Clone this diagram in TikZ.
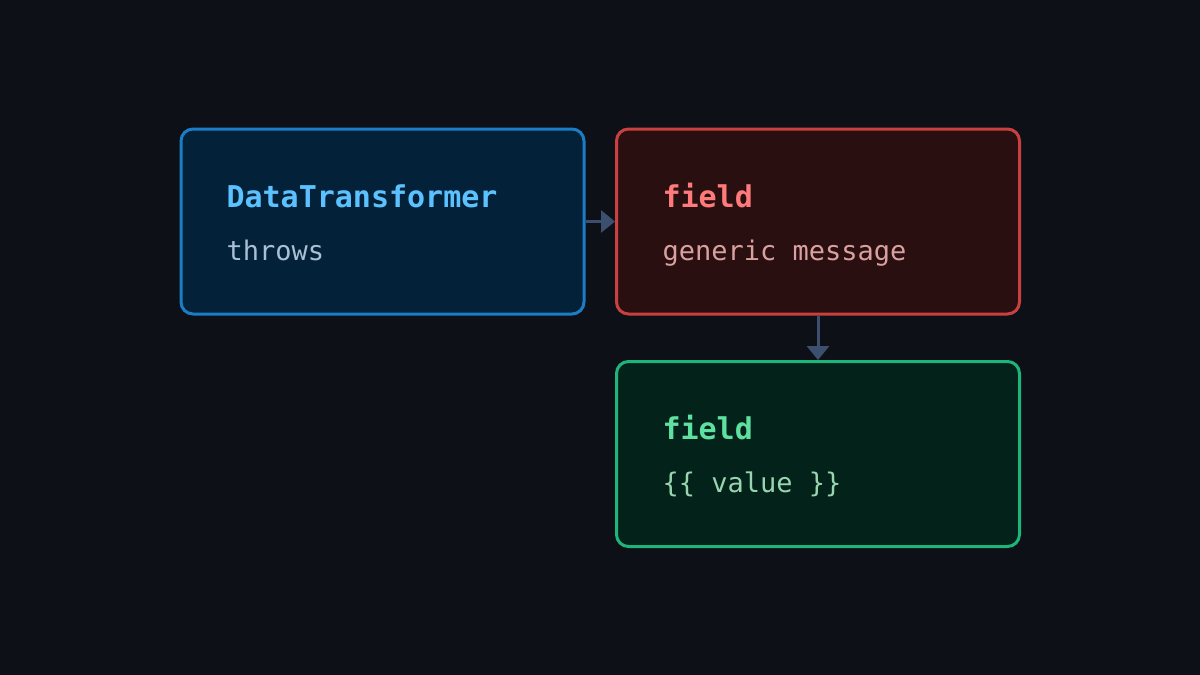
\documentclass[tikz,border=0pt]{standalone}
\usepackage{fontspec}
\setmonofont{DejaVu Sans Mono}
\usetikzlibrary{arrows.meta}
\definecolor{bg}{HTML}{0D1117}
\definecolor{bfill}{HTML}{03223A}\definecolor{bline}{HTML}{1A7DC6}\definecolor{btit}{HTML}{5CC2FF}\definecolor{bsub}{HTML}{A9BFD6}
\definecolor{rfill}{HTML}{2A0F10}\definecolor{rline}{HTML}{C94040}\definecolor{rtit}{HTML}{FF7B7B}\definecolor{rsub}{HTML}{D9A0A0}
\definecolor{gfill}{HTML}{02221A}\definecolor{gline}{HTML}{1FB57A}\definecolor{gtit}{HTML}{5EE0A0}\definecolor{gsub}{HTML}{98D4B0}
\definecolor{arr}{HTML}{3D4F6E}
\begin{document}
\begin{tikzpicture}[x=1pt,y=-1pt,
  box/.style={draw,line width=3pt,rounded corners=12pt,minimum width=403pt,minimum height=185pt,inner sep=0pt},
  tit/.style={anchor=base west,font=\ttfamily\bfseries\fontsize{30}{30}\selectfont},
  sub/.style={anchor=base west,font=\ttfamily\fontsize{27}{27}\selectfont},
  conn/.style={draw=arr,line width=3pt,-{Triangle[length=14pt,width=22pt]}}]
\fill[bg] (0,0) rectangle (1200,675);
\useasboundingbox (0,0) rectangle (1200,675);
\node[box,draw=bline,fill=bfill] (b) at (382.5,221.5) {};
\node[box,draw=rline,fill=rfill] (r) at (818,221.5) {};
\node[box,draw=gline,fill=gfill] (g) at (818,454) {};
\node[tit,text=btit] (bt) at (223,207) {DataTransformer};
\node[sub,text=bsub] (bs) at (223,260) {throws};
\node[tit,text=rtit] (rt) at (659,207) {field};
\node[sub,text=rsub] (rs) at (659,260) {generic message};
\node[tit,text=gtit] (gt) at (659,439) {field};
\node[sub,text=gsub] (gs) at (659,492) {\{\{ value \}\}};
\draw[conn] (b.east) -- (r.west);
\draw[conn] (r.south) -- (g.north);
\end{tikzpicture}
\end{document}
